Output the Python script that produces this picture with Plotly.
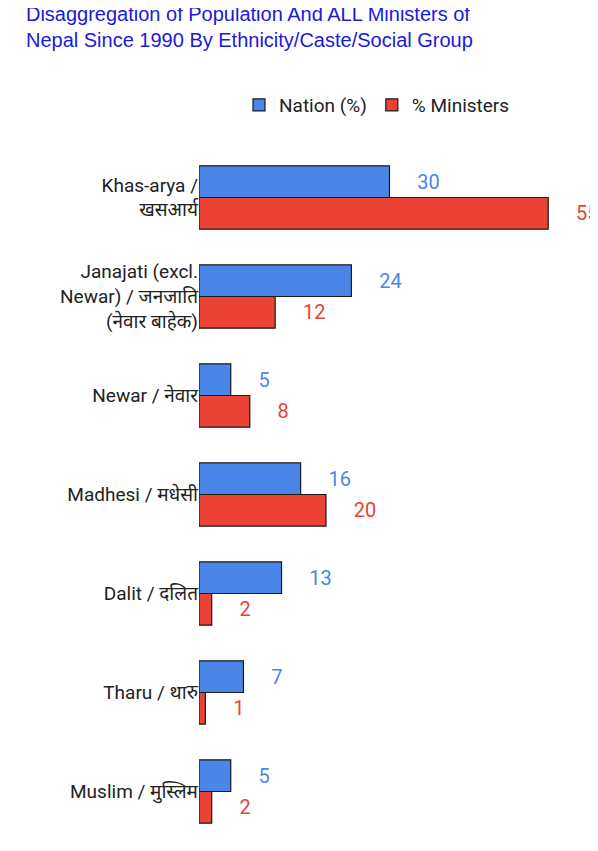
import plotly.graph_objects as go

categories = ["Khas-arya /<br>खसआर्य", "Janajati (excl.<br>Newar) / जनजाति<br>(नेवार बाहेक)",
              "Newar / नेवार", "Madhesi / मधेसी", "Dalit / दलित", "Tharu / थारु", "Muslim / मुस्लिम"]
nation = [30, 24, 5, 16, 13, 7, 5]
ministers = [55, 12, 8, 20, 2, 1, 2]

fig = go.Figure()
fig.add_trace(go.Bar(y=categories, x=nation, orientation="h", name="Nation (%)",
                     marker=dict(color="#4a86e8", line=dict(color="#1a1a1a", width=1.2)),
                     text=nation, texttemplate="     %{x}", textposition="outside",
                     textfont=dict(color="#4a86e8", size=20), cliponaxis=False))
fig.add_trace(go.Bar(y=categories, x=ministers, orientation="h", name="% Ministers",
                     marker=dict(color="#ea4335", line=dict(color="#1a1a1a", width=1.2)),
                     text=ministers, texttemplate="     %{x}", textposition="outside",
                     textfont=dict(color="#ea4335", size=20), cliponaxis=False))
fig.update_layout(
    width=598, height=851, barmode="group", bargap=0.36, bargroupgap=0,
    paper_bgcolor="white", plot_bgcolor="white",
    font=dict(family="Roboto, Noto Sans, sans-serif", size=19, color="#222"),
    title=dict(text="Disaggregation of Population And ALL Ministers of<br>Nepal Since 1990 By Ethnicity/Caste/Social Group",
               x=0.03, xanchor="left", yref="container", y=0.985, yanchor="top",
               font=dict(family="Liberation Sans, Arial, sans-serif", size=20, color="#1a1adb")),
    legend=dict(orientation="h", x=0.485, xanchor="center", yref="container", y=0.886, yanchor="middle",
                font=dict(size=19), itemwidth=30),
    margin=dict(l=191, r=40, t=140, b=18),
    xaxis=dict(range=[0, 57.8], visible=False, showgrid=False),
    yaxis=dict(autorange="reversed", showline=False, ticks="", ticklen=0,
               tickfont=dict(size=19, color="#222")),
)
fig.write_html("out.html")
